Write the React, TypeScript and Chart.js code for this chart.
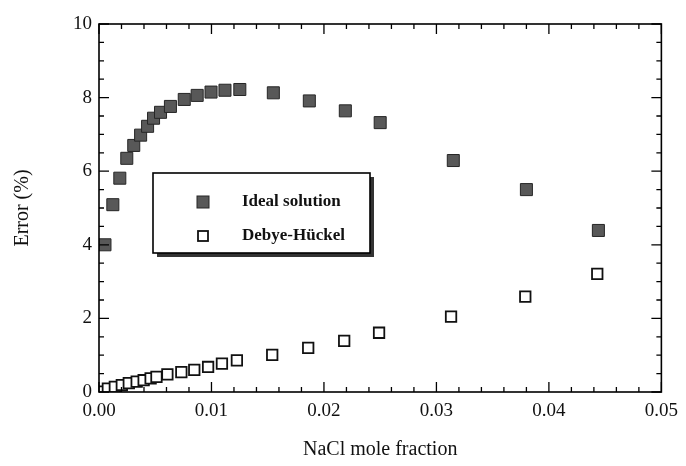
import React, { useEffect, useRef } from "react";
import { Chart, registerables } from "chart.js";

Chart.register(...registerables);

// ---- Data ----
const idealX = [0.00053, 0.00123, 0.00185, 0.00247, 0.00309, 0.0037, 0.00432, 0.00485, 0.00547, 0.00635, 0.00758, 0.00873, 0.00996, 0.0112, 0.01252, 0.0155, 0.0187, 0.0219, 0.025, 0.0315, 0.038, 0.0444];
const idealY = [4.0, 5.09, 5.81, 6.35, 6.7, 6.98, 7.22, 7.44, 7.6, 7.76, 7.95, 8.06, 8.15, 8.2, 8.22, 8.13, 7.91, 7.64, 7.32, 6.29, 5.5, 4.39];
const dhX = [0.00009, 0.00079, 0.00141, 0.00203, 0.00265, 0.00335, 0.00397, 0.00459, 0.00511, 0.00608, 0.00732, 0.00847, 0.0097, 0.01093, 0.01226, 0.0154, 0.0186, 0.0218, 0.0249, 0.0313, 0.0379, 0.0443];
const dhY = [0.01, 0.09, 0.14, 0.19, 0.24, 0.28, 0.32, 0.37, 0.41, 0.48, 0.54, 0.6, 0.68, 0.77, 0.86, 1.01, 1.2, 1.39, 1.61, 2.05, 2.59, 3.21];

const seriesLabels = ["Ideal solution", "Debye-Hückel"];
const xTitle = "NaCl mole fraction";
const yTitle = "Error (%)";

const xMajorTicks = [0, 0.01, 0.02, 0.03, 0.04, 0.05];
const xMinorTicks = [0.002, 0.004, 0.006, 0.008, 0.012, 0.014, 0.016, 0.018, 0.022, 0.024, 0.026, 0.028, 0.032, 0.034, 0.036, 0.038, 0.042, 0.044, 0.046, 0.048];
const yMajorTicks = [0, 2, 4, 6, 8, 10];
const yMinorTicks = [0.5, 1, 1.5, 2.5, 3, 3.5, 4.5, 5, 5.5, 6.5, 7, 7.5, 8.5, 9, 9.5];

const FONT = '"Liberation Serif", "Times New Roman", serif';
const FILL_DARK = "#585858";
const EDGE_DARK = "#262626";

const framePlugin = {
  id: "frameTicks",
  afterDraw(chart: any) {
    const { ctx, chartArea: a, scales } = chart;
    const xs = scales.x;
    const ys = scales.y;
    ctx.save();
    ctx.strokeStyle = "#000";
    ctx.lineWidth = 1.6;
    ctx.strokeRect(a.left, a.top, a.right - a.left, a.bottom - a.top);
    ctx.lineWidth = 1.3;
    const major = 10;
    const minor = 5;
    const drawX = (v: number, len: number) => {
      const px = xs.getPixelForValue(v);
      ctx.beginPath();
      ctx.moveTo(px, a.bottom);
      ctx.lineTo(px, a.bottom - len);
      ctx.moveTo(px, a.top);
      ctx.lineTo(px, a.top + len);
      ctx.stroke();
    };
    const drawY = (v: number, len: number) => {
      const py = ys.getPixelForValue(v);
      ctx.beginPath();
      ctx.moveTo(a.left, py);
      ctx.lineTo(a.left + len, py);
      ctx.moveTo(a.right, py);
      ctx.lineTo(a.right - len, py);
      ctx.stroke();
    };
    xMajorTicks.forEach((v) => drawX(v, major));
    xMinorTicks.forEach((v) => drawX(v, minor));
    yMajorTicks.forEach((v) => drawY(v, major));
    yMinorTicks.forEach((v) => drawY(v, minor));
    ctx.restore();
  },
};

const legendPlugin = {
  id: "boxLegend",
  afterDraw(chart: any, _args: any, opts: any) {
    const { ctx } = chart;
    const { left, top, width, height } = opts;
    ctx.save();
    // shadow
    ctx.fillStyle = "#333";
    ctx.fillRect(left + 4, top + 4, width, height);
    // box
    ctx.fillStyle = "#fff";
    ctx.fillRect(left, top, width, height);
    ctx.strokeStyle = "#000";
    ctx.lineWidth = 1.6;
    ctx.strokeRect(left, top, width, height);
    const items = chart.data.datasets;
    ctx.font = `bold 17px ${FONT}`;
    ctx.textBaseline = "middle";
    ctx.textAlign = "left";
    items.forEach((ds: any, i: number) => {
      const cy = top + 29 + i * 34;
      const cx = left + 50;
      const s = i === 0 ? 12 : 10;
      ctx.fillStyle = ds.pointBackgroundColor;
      ctx.strokeStyle = ds.pointBorderColor;
      ctx.lineWidth = ds.pointBorderWidth;
      ctx.fillRect(cx - s / 2, cy - s / 2, s, s);
      ctx.strokeRect(cx - s / 2, cy - s / 2, s, s);
      ctx.fillStyle = "#111";
      ctx.fillText(ds.label, left + 89, cy);
    });
    ctx.restore();
  },
};

export default function App() {
  const canvasRef = useRef<HTMLCanvasElement | null>(null);

  useEffect(() => {
    const canvas = canvasRef.current;
    if (!canvas) return;
    const chart = new Chart(canvas, {
      type: "scatter",
      data: {
        datasets: [
          {
            label: seriesLabels[0],
            data: idealX.map((x, i) => ({ x, y: idealY[i] })),
            pointStyle: "rect",
            pointRadius: 8.5,
            pointBackgroundColor: FILL_DARK,
            pointBorderColor: EDGE_DARK,
            pointBorderWidth: 1,
            showLine: false,
          },
          {
            label: seriesLabels[1],
            data: dhX.map((x, i) => ({ x, y: dhY[i] })),
            pointStyle: "rect",
            pointRadius: 7.4,
            pointBackgroundColor: "#ffffff",
            pointBorderColor: "#111",
            pointBorderWidth: 1.8,
            showLine: false,
          },
        ],
      },
      options: {
        responsive: false,
        animation: false,
        events: [],
        layout: { padding: { top: 24, right: 20, left: 0, bottom: 0 } },
        plugins: {
          legend: { display: false },
          tooltip: { enabled: false },
          boxLegend: { left: 153, top: 173, width: 217, height: 80 },
        } as any,
        scales: {
          x: {
            type: "linear",
            min: 0,
            max: 0.05,
            afterFit: (s: any) => {
              s.height = 74;
            },
            ticks: {
              stepSize: 0.01,
              color: "#111",
              padding: 8,
              font: { family: FONT, size: 19 },
              callback: (v: any) => Number(v).toFixed(2),
            },
            grid: { display: false, drawTicks: false },
            border: { display: false },
            title: {
              display: true,
              text: xTitle,
              color: "#111",
              font: { family: FONT, size: 20 },
              padding: { top: 0, bottom: 4 },
            },
          },
          y: {
            type: "linear",
            min: 0,
            max: 10,
            afterFit: (s: any) => {
              s.width = 99;
            },
            ticks: {
              stepSize: 2,
              color: "#111",
              padding: 7,
              font: { family: FONT, size: 19 },
            },
            grid: { display: false, drawTicks: false },
            border: { display: false },
            title: {
              display: true,
              text: yTitle,
              color: "#111",
              font: { family: FONT, size: 20 },
              padding: { top: 11, bottom: 0 },
            },
          },
        },
      },
      plugins: [framePlugin, legendPlugin],
    });
    return () => chart.destroy();
  }, []);

  return (
    <div style={{ position: "fixed", left: 0, top: 0, width: 686, height: 466, background: "#fff" }}>
      <canvas ref={canvasRef} width={686} height={466} style={{ display: "block" }} />
    </div>
  );
}
